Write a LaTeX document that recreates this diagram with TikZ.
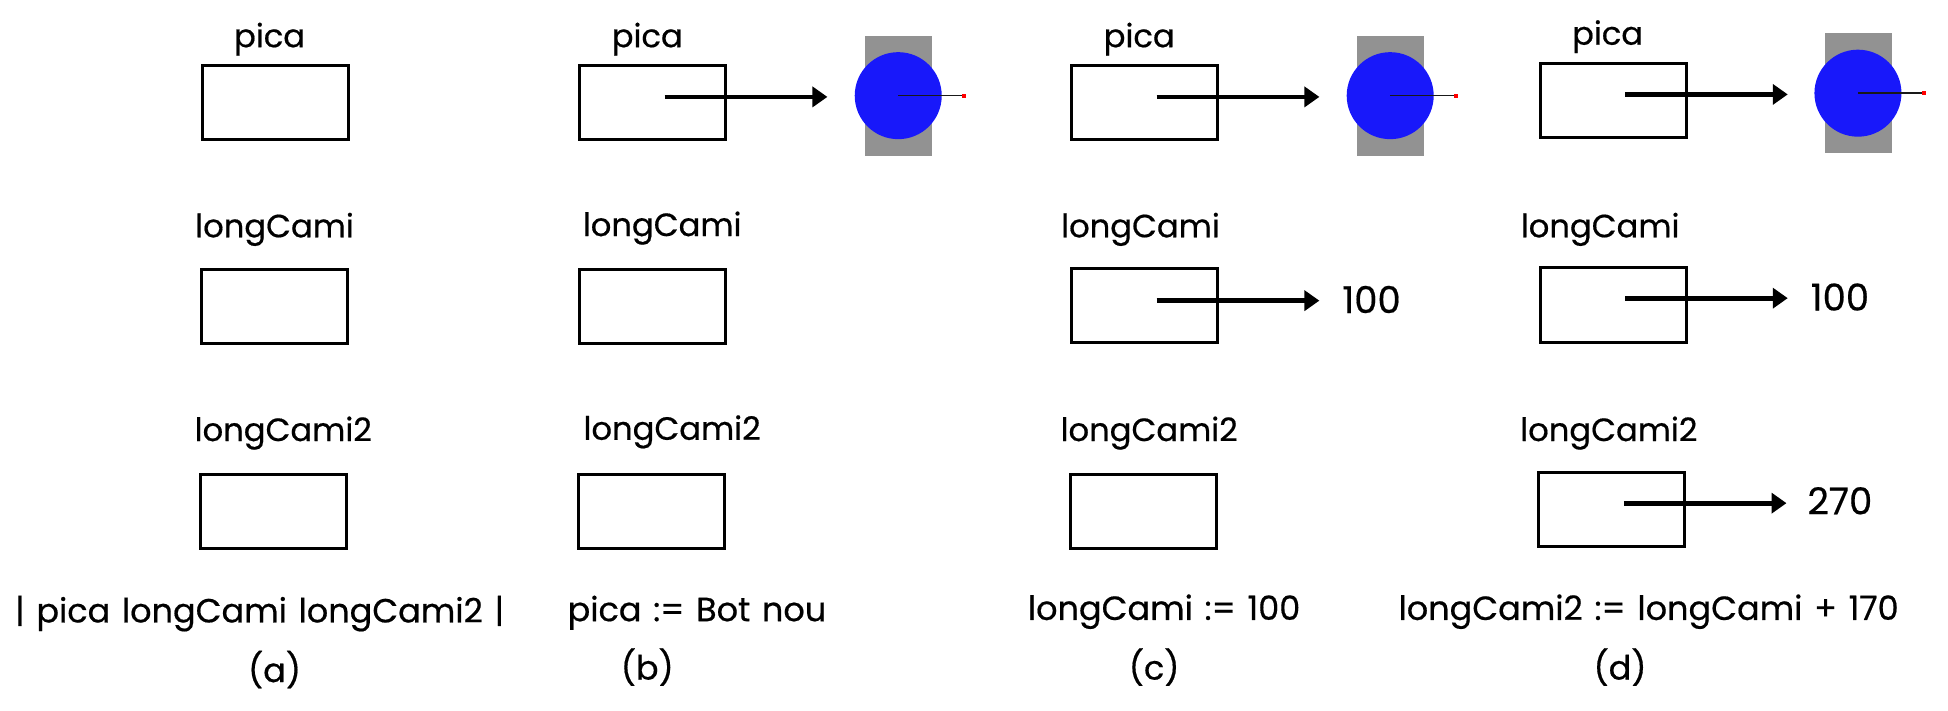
\documentclass[tikz,border=0pt]{standalone}
\usepackage{fontspec}
\setmainfont{Poppins}[FakeBold=0.5,WordSpace=1.3]
\usetikzlibrary{arrows.meta}
\definecolor{ballblue}{RGB}{24,24,250}
\definecolor{backgray}{RGB}{146,146,146}
\tikzset{
  cellbox/.style={draw=black,line width=3pt,fill=none,rectangle,inner sep=0pt,outer sep=0pt,minimum width=146pt,minimum height=74pt},
  lab/.style={anchor=base,inner sep=0pt,font=\fontsize{32.2}{33}\selectfont,text=black},
  captiontext/.style={lab,font=\fontsize{33.5}{34}\selectfont},
  numtext/.style={lab,font=\fontsize{37}{37}\selectfont},
  ptr/.style={line width=4.8pt,-{Triangle[length=15pt,width=20pt]},black},
  graybg/.style={fill=backgray,draw=none,rectangle,inner sep=0pt,outer sep=0pt,minimum width=67pt,minimum height=120pt},
  ball/.style={fill=ballblue,draw=none,circle,inner sep=0pt,outer sep=0pt,minimum size=87pt},
  reddot/.style={fill=red,draw=none,rectangle,inner sep=0pt,outer sep=0pt,minimum size=4pt},
  heading/.style={line width=1.5pt,black!90}
}
\begin{document}
\begin{tikzpicture}[x=1.2423pt,y=-1.2423pt]
\useasboundingbox (0,0) rectangle (1568,572.3);
% column a
\node[lab] (la1) at (217,38) {pica};
\node[cellbox] (a1) at (221.5,82.5) {};
\node[lab] (la2) at (221,191) {longCami};
\node[cellbox] (a2) at (221,246.5) {};
\node[lab] (la3) at (228,355) {longCami2};
\node[cellbox] (a3) at (220.5,411.5) {};
\node[captiontext] (ca) at (209,501) {| pica longCami longCami2 |};
\node[captiontext] (pa) at (221,549) {(a)};
% column b
\node[lab] (lb1) at (521,38) {pica};
\node[cellbox] (b1) at (525.5,82.5) {};
\node[lab] (lb2) at (533,190) {longCami};
\node[cellbox] (b2) at (525.5,246.5) {};
\node[lab] (lb3) at (541,354) {longCami2};
\node[cellbox] (b3) at (524.5,411.5) {};
\node[captiontext] (cb) at (561,500) {pica := Bot nou};
\node[captiontext] (pb) at (521,547) {(b)};
% column c
\node[lab] (lc1) at (917,38) {pica};
\node[cellbox] (c1) at (921.5,82.5) {};
\node[lab] (lc2) at (918,191) {longCami};
\node[cellbox] (c2) at (921.5,246) {};
\node[lab] (lc3) at (925,355) {longCami2};
\node[cellbox] (c3) at (920.5,411.5) {};
\node[captiontext] (cc) at (937,499) {longCami := 100};
\node[captiontext] (pc) at (929,547) {(c)};
\node[numtext] (vc) at (1104,252) {100};
% column d
\node[lab] (ld1) at (1294,36) {pica};
\node[cellbox] (d1) at (1298.5,80.5) {};
\node[lab] (ld2) at (1288,191) {longCami};
\node[cellbox] (d2) at (1298.5,245.5) {};
\node[lab] (ld3) at (1295,355) {longCami2};
\node[cellbox] (d3) at (1297.5,410.5) {};
\node[captiontext] (cd) at (1327,499) {longCami2 := longCami + 170};
\node[captiontext] (pd) at (1304,547) {(d)};
\node[numtext] (vd1) at (1481,250) {100};
\node[numtext] (vd2) at (1481,414) {270};
% balls
\foreach \n/\cx/\cy in {b/723/77,c/1119/77,d/1495.5/75}{
  \node[graybg] (g\n) at (\cx+0.5,\cy) {};
  \node[ball] (o\n) at (\cx,\cy) {};
  \node[reddot] (r\n) at (\cx+53,\cy) {};
  \draw[heading] (o\n.center) -- (r\n);
}
% pointers
\coordinate (sb) at (535,78); \coordinate (eb) at (666,78);
\coordinate (sc) at (931,78); \coordinate (ec) at (1062,78);
\coordinate (sd) at (1308,76); \coordinate (ed) at (1439,76);
\coordinate (sc2) at (931,242); \coordinate (ec2) at (1062,242);
\coordinate (sd2) at (1308,240); \coordinate (ed2) at (1439,240);
\coordinate (sd3) at (1307,405); \coordinate (ed3) at (1438,405);
\draw[ptr] (sb) -- (eb);
\draw[ptr] (sc) -- (ec);
\draw[ptr] (sd) -- (ed);
\draw[ptr] (sc2) -- (ec2);
\draw[ptr] (sd2) -- (ed2);
\draw[ptr] (sd3) -- (ed3);
\end{tikzpicture}
\end{document}
